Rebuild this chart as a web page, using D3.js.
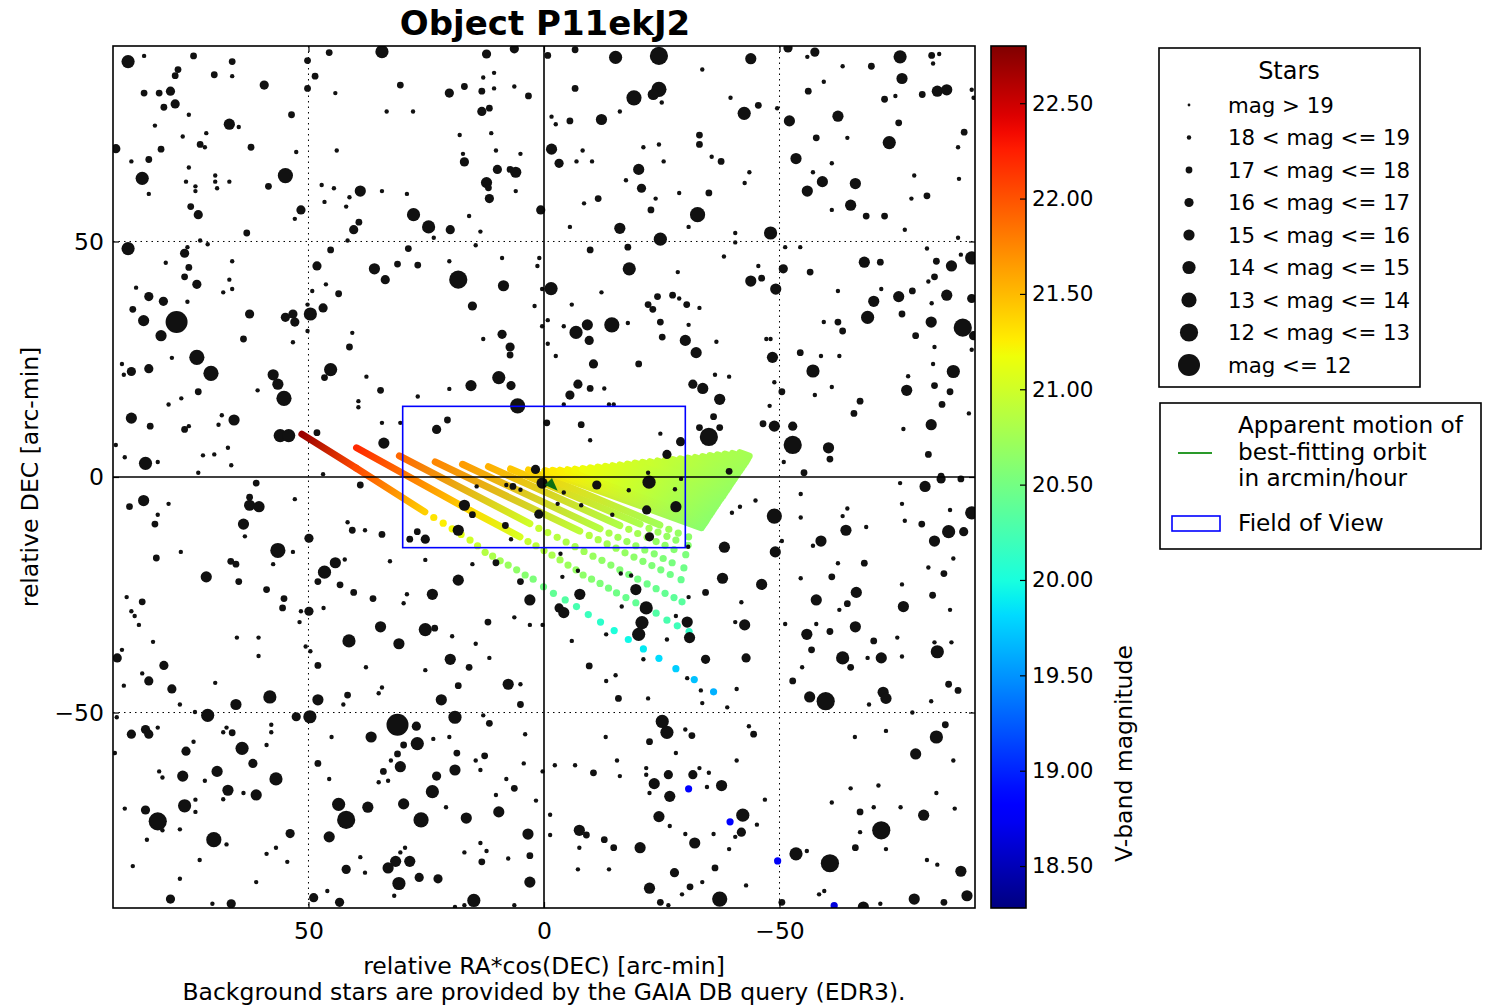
<!DOCTYPE html>
<html>
<head>
<meta charset="utf-8">
<script src="https://cdn.jsdelivr.net/npm/d3@7"></script>
<style>
  body { margin: 0; background: #fff; }
  svg { font-family: "DejaVu Sans", sans-serif; }
</style>
</head>
<body>
<svg id="chart" width="1491" height="1006"></svg>
<script>
// ---- data (arc-min offsets, V magnitudes) ----
const titleText = "Object P11ekJ2";
const axisTicks = [50, 0, -50];
const fovBox = [30, 15];             // half width / half height of field of view
const motionVec = [-2.9, -2.9];       // apparent motion, arcmin/hour
const cbarRange = [18.28, 22.80];
const cbarTicks = [18.5, 19.0, 19.5, 20.0, 20.5, 21.0, 21.5, 22.0, 22.5];
const magBins = [19, 18, 17, 16, 15, 14, 13, 12];
const legendLabels = ["mag > 19", "18 < mag <= 19", "17 < mag <= 18", "16 < mag <= 17",
  "15 < mag <= 16", "14 < mag <= 15", "13 < mag <= 14", "12 < mag <= 13", "mag <= 12"];
const legendMags = [19.5, 18.5, 17.5, 16.5, 15.5, 14.5, 13.5, 12.5, 11.5];

// background stars [x, y, mag], one array per quadrant
const starsNE = [[88.3,88.2,14.5],[84.9,89.4,18.5],[74.4,89.4,17.5],[66.2,88.2,17.5],[66.2,85.1,18.5],[70.0,85.4,17.5],[77.7,86.5,17.5],[78.3,85.2,17.5],[84.9,81.5,17.5],[81.7,81.5,17.5],[79.3,81.9,16.5],[78.3,79.2,16.5],[80.7,78.5,17.5],[75.4,76.9,18.5],[82.6,74.6,18.5],[66.8,74.9,15.5],[64.8,74.3,18.5],[59.4,83.2,16.5],[53.6,76.9,17.5],[50.2,88.4,17.5],[48.6,85.1,17.5],[50.2,82.5,17.5],[45.6,90.1,17.5],[34.4,90.3,14.5],[44.3,81.5,18.5],[30.5,83.2,17.5],[33.4,77.6,18.5],[27.8,77.6,18.5],[20.1,81.5,16.5],[16.9,82.9,17.5],[13.2,81.9,17.5],[12.2,89.8,16.5],[6.3,90.9,16.5],[10.6,85.8,18.5],[12.9,84.8,18.5],[10.6,82.5,18.5],[6.3,82.9,18.5],[3.3,80.9,17.5],[13.2,77.6,16.5],[11.6,78.3,17.5],[17.9,72.6,18.5],[11.2,73.0,18.5],[10.2,69.3,18.5],[17.2,68.6,18.5],[16.9,66.9,16.5],[5.0,68.6,18.5],[9.9,65.3,16.5],[7.2,65.3,17.5],[6.0,64.7,15.5],[12.2,62.5,15.5],[11.6,59.1,16.5],[11.8,61.4,17.5],[6.0,60.7,18.5],[0.7,56.7,16.5],[15.9,55.4,18.5],[13.5,52.1,18.5],[14.5,49.2,18.5],[90.9,69.7,16.5],[87.6,67.0,18.5],[83.9,67.4,17.5],[81.3,69.6,17.5],[76.7,72.3,18.5],[73.0,70.6,17.5],[72.0,70.0,18.5],[71.7,73.0,18.5],[62.2,70.0,17.5],[85.3,63.4,14.5],[83.9,60.1,18.5],[75.4,65.7,18.5],[76.0,62.7,18.5],[74.0,61.7,18.5],[74.0,60.7,18.5],[69.8,64.0,18.5],[69.8,62.7,18.5],[69.4,61.3,18.5],[66.8,62.7,18.5],[58.5,61.7,17.5],[54.9,64.0,13.5],[52.6,69.0,18.5],[51.6,56.7,16.5],[52.9,54.8,18.5],[44.0,69.3,18.5],[47.2,62.0,18.5],[44.6,61.3,18.5],[46.6,58.4,18.5],[41.3,59.4,18.5],[42.0,57.4,18.5],[39.0,60.7,15.5],[34.4,60.7,18.5],[29.1,60.1,18.5],[39.3,54.1,17.5],[40.4,52.5,16.5],[27.7,55.7,14.5],[24.5,53.1,14.5],[19.9,52.5,16.5],[23.4,50.8,18.5],[41.7,50.2,18.5],[73.4,55.7,16.5],[75.0,57.4,17.5],[63.1,51.8,17.5],[73.0,50.2,18.5],[71.4,49.4,18.5],[88.3,48.5,14.5],[76.3,47.5,16.5],[75.7,48.8,18.5],[80.3,45.5,18.5],[75.4,44.5,17.5],[76.3,42.5,17.5],[73.7,40.9,16.5],[86.6,40.2,18.5],[83.9,38.3,16.5],[80.8,37.3,16.5],[87.3,35.6,17.5],[85.0,33.2,15.5],[78.0,32.9,11.5],[81.3,30.0,15.5],[75.7,37.2,18.5],[66.2,45.8,18.5],[66.8,41.9,18.5],[66.2,39.9,18.5],[68.1,39.2,18.5],[62.5,34.6,16.5],[54.9,33.9,16.5],[53.3,34.6,16.5],[52.9,32.9,16.5],[49.6,34.6,14.5],[50.2,36.6,18.5],[49.2,39.5,18.5],[46.9,35.9,16.5],[46.3,40.9,18.5],[43.6,38.9,17.5],[45.3,48.2,17.5],[48.2,44.8,16.5],[50.2,31.0,18.5],[53.3,28.6,18.5],[40.7,30.6,18.5],[41.3,27.6,17.5],[36.0,44.2,15.5],[33.7,41.9,16.5],[31.1,45.2,17.5],[28.8,48.5,17.5],[26.8,45.0,17.5],[20.1,45.8,18.5],[18.2,41.9,12.5],[8.6,40.6,15.5],[8.9,46.5,18.5],[1.0,46.5,18.5],[1.4,44.8,18.5],[0.4,39.9,18.5],[2.0,36.3,18.5],[0.4,32.0,18.5],[15.2,36.3,16.5],[12.9,29.3,18.5],[8.9,30.3,16.5],[7.2,27.6,16.5],[7.2,25.9,17.5],[9.6,21.1,14.5],[7.0,19.4,16.5],[15.5,19.4,15.5],[20.1,18.7,18.5],[26.8,17.1,18.5],[5.6,15.1,13.5],[22.8,10.1,16.5],[20.5,12.1,17.5],[30.5,11.5,18.5],[34.4,11.5,18.5],[34.0,7.2,15.5],[39.4,16.1,18.5],[39.4,14.8,18.5],[37.7,21.3,18.5],[34.7,18.4,17.5],[45.3,22.8,14.5],[46.6,21.1,17.5],[57.5,21.7,15.5],[56.5,19.7,15.5],[55.2,16.7,13.5],[60.8,18.4,18.5],[56.0,8.8,14.5],[54.2,8.8,14.5],[48.2,9.4,17.5],[46.9,0.6,18.5],[73.7,25.4,13.5],[70.7,22.0,13.5],[79.0,25.3,18.5],[83.9,23.0,16.5],[87.6,22.4,16.5],[89.6,24.0,18.5],[89.2,21.7,18.5],[73.4,18.1,17.5],[77.0,16.7,18.5],[79.7,15.4,18.5],[68.4,13.1,18.5],[65.8,12.1,15.5],[69.1,11.1,18.5],[75.4,10.8,18.5],[76.3,10.1,17.5],[83.6,10.8,17.5],[87.6,12.5,15.5],[90.9,6.8,18.5],[89.0,4.2,18.5],[84.6,2.9,14.5],[82.0,3.2,18.5],[72.4,4.6,18.5],[70.0,4.8,18.5],[67.1,6.2,18.5],[66.4,2.5,18.5],[73.4,0.9,18.5],[63.8,29.3,17.5]];

const starsNW = [[-0.8,89.5,17.5],[-6.6,90.7,17.5],[-15.2,89.1,14.5],[-24.4,89.4,12.5],[-43.9,88.8,15.5],[-51.8,91.1,16.5],[-57.5,90.2,16.5],[-75.6,89.2,14.5],[-82.3,89.5,17.5],[-83.9,89.8,18.5],[-82.6,87.8,18.5],[-55.9,89.2,18.5],[-63.4,87.2,18.5],[-69.5,87.2,17.5],[-76.0,84.6,15.5],[-6.6,82.5,17.5],[-24.4,82.3,13.5],[-23.2,81.2,15.5],[-19.1,80.5,13.5],[-25.0,79.5,18.5],[-33.6,86.5,18.5],[-39.6,80.5,18.5],[-42.5,77.2,14.5],[-45.5,78.9,17.5],[-49.5,78.3,18.5],[-59.4,83.9,18.5],[-56.1,81.9,17.5],[-52.1,75.6,15.5],[-62.4,76.6,15.5],[-72.3,80.2,17.5],[-74.6,80.9,18.5],[-80.3,81.2,17.5],[-83.5,81.9,15.5],[-85.5,82.2,15.5],[-90.8,82.2,18.5],[-91.2,80.5,18.5],[-75.3,75.2,17.5],[-89.2,73.2,17.5],[-87.9,70.0,18.5],[-88.1,63.3,18.5],[-73.3,71.0,14.5],[-64.4,72.0,18.5],[-57.8,72.0,17.5],[-53.5,67.6,15.5],[-61.1,66.6,18.5],[-57.1,64.7,18.5],[-59.1,62.7,15.5],[-55.9,60.7,15.5],[-66.1,62.3,15.5],[-65.1,57.7,15.5],[-61.1,56.7,18.5],[-68.4,55.4,17.5],[-72.3,55.4,17.5],[-78.6,64.0,18.5],[-81.3,59.7,17.5],[-78.0,59.1,18.5],[-76.6,52.5,18.5],[-87.9,50.8,18.5],[-90.8,46.5,14.5],[-88.5,47.2,18.5],[-86.5,44.8,15.5],[-83.3,45.8,17.5],[-81.3,48.5,18.5],[-82.9,42.5,17.5],[-81.6,41.5,18.5],[-78.2,39.5,17.5],[-85.5,38.6,15.5],[-90.8,37.9,16.5],[-82.3,36.9,18.5],[-75.3,38.3,15.5],[-71.6,39.9,18.5],[-70.0,37.3,15.5],[-68.7,33.9,14.5],[-76.0,34.6,17.5],[-82.2,32.9,15.5],[-88.9,31.7,12.5],[-91.2,30.0,16.5],[-78.9,30.0,17.5],[-82.9,27.6,18.5],[-90.8,27.0,18.5],[-82.6,24.0,18.5],[-86.9,22.4,14.5],[-77.3,21.4,18.5],[-82.9,19.4,17.5],[-77.0,18.4,15.5],[-86.2,18.1,17.5],[-84.5,15.4,17.5],[-90.2,13.5,18.5],[-82.2,11.1,15.5],[-76.3,10.2,18.5],[-81.6,4.8,17.5],[-84.3,0.2,17.5],[-67.1,16.1,17.5],[-65.8,13.5,17.5],[-61.1,19.1,18.5],[-57.1,22.5,14.5],[-57.5,17.4,18.5],[-59.4,32.9,18.5],[-62.4,32.9,17.5],[-63.4,31.0,17.5],[-62.7,25.7,18.5],[-58.8,25.7,18.5],[-54.4,26.4,17.5],[-48.5,25.4,15.5],[-47.2,29.3,18.5],[-48.1,29.3,18.5],[-48.9,20.1,18.5],[-50.5,18.1,17.5],[-47.9,15.1,18.5],[-48.9,10.8,15.5],[-46.5,11.3,17.5],[-52.8,10.8,16.5],[-52.8,6.8,12.5],[-60.4,6.2,15.5],[-60.7,3.8,17.5],[-50.9,3.2,18.5],[-55.2,0.9,17.5],[-35.0,8.5,12.5],[-33.0,10.5,17.5],[-37.3,10.5,17.5],[-36.0,12.8,17.5],[-37.3,16.5,15.5],[-33.7,18.8,15.5],[-31.6,19.7,16.5],[-36.3,21.7,18.5],[-39.3,21.3,18.5],[-32.3,26.4,15.5],[-30.0,29.0,15.5],[-36.6,28.7,18.5],[-30.7,32.3,18.5],[-33.0,35.9,18.5],[-30.3,36.6,17.5],[-28.7,37.9,18.5],[-27.3,38.6,17.5],[-24.1,38.3,17.5],[-22.1,36.6,17.5],[-23.1,35.6,17.5],[-24.7,32.9,17.5],[-25.1,29.7,17.5],[-20.1,24.0,17.5],[-17.8,32.7,18.5],[-14.4,32.3,13.5],[-9.2,32.3,15.5],[-6.8,30.7,14.5],[-9.6,29.0,16.5],[-12.2,39.2,18.5],[-5.9,36.6,18.5],[-1.5,40.0,14.5],[-0.8,33.3,18.5],[-0.8,28.3,18.5],[-2.5,25.7,18.5],[-4.2,32.0,18.5],[-10.5,24.0,16.5],[-7.2,19.7,16.5],[-9.8,18.8,17.5],[-12.8,18.8,18.5],[-5.5,17.4,16.5],[-4.2,15.4,18.5],[-13.8,15.4,18.5],[-14.8,15.4,18.5],[-0.6,11.5,17.5],[-7.9,11.1,17.5],[-9.8,7.8,18.5],[-24.7,9.2,18.5],[-29.0,7.5,16.5],[-26.1,4.8,16.5],[-39.3,1.2,17.5],[-22.1,0.9,18.5],[-1.6,76.5,18.5],[-2.5,74.9,18.5],[-5.5,75.6,17.5],[-12.2,75.9,15.5],[-16.1,77.6,18.5],[-1.6,69.6,15.5],[-3.2,66.6,16.5],[-8.2,69.3,18.5],[-6.9,67.0,18.5],[-10.2,67.0,18.5],[-20.1,65.3,15.5],[-20.7,61.3,16.5],[-21.1,70.0,18.5],[-24.4,70.6,18.5],[-25.4,67.0,18.5],[-33.0,72.6,17.5],[-33.0,70.6,17.5],[-35.6,68.0,18.5],[-37.6,67.0,17.5],[-43.6,64.7,18.5],[-42.6,62.4,18.5],[-35.0,60.3,17.5],[-28.7,60.3,18.5],[-23.7,59.1,18.5],[-22.7,56.7,17.5],[-17.4,63.0,18.5],[-11.5,59.1,17.5],[-8.5,58.1,18.5],[-32.6,55.7,13.5],[-30.7,53.1,18.5],[-16.1,52.8,15.5],[-5.5,53.1,18.5],[-24.7,50.5,14.5],[-17.8,48.8,17.5],[-9.8,48.2,17.5],[-18.1,44.2,14.5],[-28.4,43.5,18.5],[-40.6,51.8,18.5],[-40.6,49.8,18.5],[-38.2,46.8,18.5],[-45.5,44.8,18.5],[-46.2,42.2,17.5],[-43.9,41.6,15.5],[-48.1,51.8,14.5],[-49.2,39.9,15.5],[-50.8,44.2,16.5],[-51.2,48.8,18.5],[-54.4,48.8,18.5],[-56.5,43.5,17.5],[-62.4,39.5,18.5],[-68.0,45.6,15.5],[-71.4,45.6,17.5]];

const starsSE = [[61.1,-1.3,17.5],[39.0,-1.7,17.5],[85.0,-5.0,15.5],[88.0,-6.3,17.5],[79.7,-5.7,18.5],[62.5,-4.3,17.5],[62.5,-6.0,15.5],[60.5,-6.3,15.5],[52.9,-4.7,18.5],[82.0,-8.0,18.5],[82.6,-10.0,17.5],[63.8,-10.0,15.5],[63.5,-12.6,18.5],[56.5,-15.6,13.5],[53.3,-15.9,18.5],[49.9,-13.0,16.5],[77.1,-15.9,18.5],[82.3,-17.2,17.5],[66.5,-17.9,17.5],[65.4,-18.5,17.5],[57.5,-18.5,18.5],[71.7,-21.2,15.5],[64.8,-22.2,17.5],[58.9,-23.9,17.5],[55.2,-25.8,17.5],[55.5,-27.8,17.5],[51.6,-28.5,18.5],[49.9,-28.5,16.5],[51.9,-30.8,18.5],[46.8,-27.8,18.5],[46.6,-20.2,14.5],[44.3,-18.2,15.5],[42.3,-17.5,18.5],[48.0,-22.2,17.5],[43.3,-22.9,17.5],[40.4,-24.5,17.5],[36.3,-25.8,17.5],[41.7,-9.6,18.5],[40.7,-11.3,17.5],[38.0,-11.3,18.5],[34.4,-12.2,17.5],[32.7,-17.9,18.5],[29.1,-24.9,18.5],[29.8,-26.8,18.5],[34.7,-31.8,15.5],[41.4,-34.8,14.5],[30.8,-35.4,15.5],[25.2,-32.4,14.5],[23.2,-32.1,17.5],[23.7,-24.9,15.5],[25.2,-17.6,18.5],[18.2,-21.9,15.5],[15.2,-18.5,18.5],[10.2,-18.2,17.5],[5.0,-22.2,17.5],[3.0,-26.1,15.5],[11.9,-30.8,17.5],[6.3,-29.8,18.5],[3.0,-31.4,18.5],[0.3,-31.4,18.5],[19.5,-33.8,18.5],[14.5,-35.4,18.5],[11.6,-38.4,18.5],[19.9,-38.7,15.5],[15.9,-40.4,17.5],[25.2,-41.0,18.5],[18.2,-44.3,17.5],[7.6,-44.0,15.5],[5.0,-44.0,18.5],[5.0,-48.3,17.5],[21.8,-47.3,15.5],[18.9,-51.0,14.5],[12.9,-50.6,18.5],[11.6,-52.3,17.5],[4.0,-54.6,18.5],[12.6,-59.2,17.5],[14.5,-60.2,18.5],[13.5,-62.2,18.5],[18.9,-62.2,15.5],[18.5,-58.6,17.5],[20.1,-55.2,18.5],[4.3,-60.8,18.5],[0.3,-62.5,18.5],[8.0,-64.1,18.5],[6.3,-66.1,17.5],[10.2,-67.5,18.5],[9.6,-71.1,15.5],[1.7,-68.7,18.5],[3.4,-75.8,15.5],[3.0,-80.4,17.5],[3.0,-86.0,15.5],[7.6,-81.0,18.5],[13.5,-77.7,18.5],[12.2,-79.4,18.5],[16.9,-79.7,18.5],[13.2,-81.7,17.5],[16.5,-72.4,15.5],[20.8,-70.1,18.5],[23.7,-66.8,14.5],[22.8,-63.5,16.5],[26.1,-72.8,13.5],[29.8,-69.4,15.5],[30.5,-61.5,15.5],[31.1,-58.8,17.5],[29.8,-56.9,17.5],[26.9,-56.6,14.5],[27.1,-52.9,16.5],[23.5,-55.6,18.5],[31.1,-52.6,11.5],[36.7,-55.2,15.5],[32.5,-60.2,18.5],[34.1,-62.5,17.5],[35.1,-64.8,18.5],[33.1,-64.5,18.5],[37.4,-70.1,15.5],[43.6,-69.5,14.5],[42.0,-72.8,12.5],[45.6,-76.4,15.5],[45.6,-64.1,18.5],[48.0,-60.8,17.5],[48.0,-47.3,15.5],[48.0,-40.0,17.5],[49.7,-50.9,14.5],[52.6,-50.9,16.5],[41.7,-46.3,17.5],[42.6,-48.3,18.5],[35.1,-45.9,18.5],[34.4,-44.7,18.5],[37.8,-40.4,18.5],[45.1,-55.2,18.5],[50.6,-36.0,18.5],[49.6,-37.0,18.5],[60.6,-34.1,18.5],[60.6,-38.0,18.5],[65.2,-34.1,18.5],[69.8,-43.7,18.5],[58.2,-46.7,14.5],[65.4,-48.3,15.5],[71.4,-50.6,14.5],[74.1,-49.9,18.5],[77.3,-48.3,18.5],[79.0,-45.0,16.5],[80.7,-40.0,16.5],[83.9,-43.3,16.5],[85.3,-41.7,18.5],[89.2,-44.3,18.5],[90.6,-38.4,16.5],[89.6,-36.7,18.5],[83.0,-35.0,18.5],[88.6,-25.5,18.5],[85.3,-26.5,17.5],[87.6,-28.5,18.5],[86.9,-29.5,18.5],[86.0,-31.4,18.5],[90.7,-51.0,18.5],[87.6,-54.6,16.5],[84.6,-53.6,16.5],[83.9,-54.6,16.5],[82.0,-53.2,18.5],[91.1,-58.6,18.5],[81.7,-62.5,18.5],[81.0,-63.8,18.5],[76.7,-63.5,15.5],[76.0,-58.2,16.5],[74.4,-56.2,18.5],[72.0,-64.5,18.5],[69.4,-62.5,15.5],[67.4,-53.2,18.5],[68.1,-54.2,18.5],[66.2,-54.3,17.5],[64.1,-57.6,14.5],[61.8,-60.8,16.5],[58.9,-56.9,18.5],[57.9,-52.6,18.5],[57.9,-54.2,18.5],[56.9,-64.1,14.5],[67.1,-66.5,15.5],[63.8,-67.1,18.5],[61.1,-67.5,15.5],[68.1,-68.4,18.5],[74.0,-68.5,18.5],[74.0,-71.1,18.5],[76.3,-69.8,14.5],[82.0,-73.1,12.5],[81.0,-75.0,18.5],[84.6,-70.7,16.5],[89.0,-70.4,18.5],[77.3,-74.8,18.5],[84.3,-77.0,18.5],[87.3,-82.6,18.5],[77.3,-85.3,18.5],[79.3,-89.6,16.5],[73.1,-81.3,18.5],[70.1,-77.0,13.5],[67.4,-78.0,18.5],[70.4,-90.6,18.5],[66.4,-90.6,16.5],[61.1,-86.0,18.5],[58.9,-80.0,18.5],[56.9,-78.7,18.5],[54.5,-81.7,18.5],[53.9,-75.7,16.5],[48.9,-89.3,16.5],[46.0,-87.9,18.5],[43.4,-90.3,16.5],[42.0,-83.3,16.5],[39.0,-80.7,18.5],[38.0,-84.0,18.5],[33.1,-83.0,15.5],[31.5,-81.6,15.5],[28.5,-81.6,15.5],[30.5,-79.7,18.5],[29.5,-78.7,18.5],[30.8,-86.3,14.5],[31.8,-88.9,18.5],[26.5,-85.0,16.5],[22.5,-85.3,16.5],[14.9,-89.9,14.5],[16.9,-90.9,18.5],[18.9,-91.3,18.5],[6.3,-90.9,18.5]];

const starsSW = [[-3.5,-16.3,18.5],[-7.2,-19.9,18.5],[-3.9,-21.2,18.5],[-7.6,-24.9,15.5],[-3.2,-27.8,16.5],[-4.2,-28.8,15.5],[-16.3,-20.5,18.5],[-18.5,-20.9,18.5],[-19.5,-23.9,15.5],[-16.5,-27.5,18.5],[-21.7,-27.8,14.5],[-20.8,-30.9,14.5],[-20.1,-33.4,14.5],[-13.2,-33.4,18.5],[-5.9,-34.8,18.5],[-9.6,-40.1,17.5],[-13.2,-43.3,18.5],[-15.2,-42.1,18.5],[-15.8,-47.0,17.5],[-22.1,-47.0,18.5],[-21.1,-38.7,18.5],[-28.0,-29.5,18.5],[-30.4,-30.8,15.5],[-30.9,-34.1,15.5],[-26.1,-34.5,18.5],[-30.7,-25.5,18.5],[-34.3,-24.5,17.5],[-38.3,-14.9,15.5],[-37.9,-21.5,15.5],[-39.9,-7.6,18.5],[-41.6,-6.3,18.5],[-44.9,-5.0,18.5],[-48.9,-8.3,13.5],[-50.5,-13.6,18.5],[-49.1,-15.9,15.5],[-46.2,-22.8,15.5],[-34.3,-38.7,16.5],[-30.4,-42.7,18.5],[-33.3,-45.3,18.5],[-33.6,-48.0,18.5],[-38.9,-48.9,18.5],[-40.9,-45.0,18.5],[-40.6,-30.8,18.5],[-42.6,-31.4,15.5],[-41.9,-26.6,18.5],[-42.9,-38.4,16.5],[-51.2,-31.2,18.5],[-54.5,-3.6,18.5],[-54.5,-8.6,18.5],[-58.8,-13.6,15.5],[-57.1,-14.6,18.5],[-54.5,-21.5,18.5],[-57.8,-26.1,15.5],[-57.8,-31.2,18.5],[-55.8,-33.4,15.5],[-56.8,-36.7,17.5],[-54.8,-40.4,18.5],[-52.8,-43.3,17.5],[-56.4,-46.7,15.5],[-59.8,-47.6,12.5],[-60.7,-32.8,17.5],[-62.7,-28.2,18.5],[-64.4,-26.9,17.5],[-66.3,-24.5,15.5],[-61.1,-21.2,17.5],[-62.4,-18.3,18.5],[-64.1,-11.3,15.5],[-63.4,-8.3,18.5],[-64.4,-6.7,18.5],[-68.4,-10.6,18.5],[-68.0,-18.3,17.5],[-66.1,-31.8,15.5],[-70.0,-34.8,17.5],[-63.4,-38.4,14.5],[-65.1,-40.4,17.5],[-68.7,-38.4,18.5],[-71.6,-38.4,15.5],[-76.0,-38.1,18.5],[-75.0,-34.1,18.5],[-72.0,-45.7,15.5],[-72.6,-47.0,15.5],[-69.0,-48.3,18.5],[-76.0,-22.8,18.5],[-76.3,-27.5,15.5],[-82.5,-25.1,17.5],[-86.2,-28.2,18.5],[-82.9,-13.6,15.5],[-85.9,-11.6,14.5],[-89.1,-11.6,16.5],[-80.2,-10.0,17.5],[-76.6,-9.3,18.5],[-76.0,-5.7,18.5],[-80.9,-2.0,15.5],[-75.6,-1.3,18.5],[-84.3,-0.4,16.5],[-88.5,-0.4,17.5],[-90.8,-7.6,14.5],[-86.2,-7.0,18.5],[-86.9,-17.3,18.5],[-81.6,-19.2,18.5],[-84.9,-20.5,17.5],[-83.5,-37.1,14.5],[-82.9,-35.1,18.5],[-86.5,-35.1,18.5],[-85.9,-44.0,17.5],[-87.9,-45.3,17.5],[-82.2,-47.6,18.5],[-78.2,-50.0,18.5],[-85.2,-52.6,17.5],[-83.3,-55.2,14.5],[-78.9,-58.8,15.5],[-86.9,-60.2,18.5],[-83.3,-67.1,18.5],[-87.2,-70.4,18.5],[-80.6,-71.8,15.5],[-75.7,-70.1,18.5],[-70.0,-70.1,18.5],[-71.0,-65.5,18.5],[-65.1,-66.1,18.5],[-61.1,-69.1,18.5],[-67.1,-71.1,17.5],[-71.6,-75.0,12.5],[-67.1,-75.4,18.5],[-66.1,-78.7,17.5],[-72.6,-79.0,18.5],[-66.0,-55.2,18.5],[-72.6,-53.9,18.5],[-81.3,-81.3,18.5],[-83.5,-82.3,18.5],[-88.5,-83.7,15.5],[-89.8,-88.9,15.5],[-84.9,-90.3,17.5],[-78.6,-89.6,15.5],[-71.4,-90.6,18.5],[-67.8,-91.3,15.5],[-60.7,-82.0,12.5],[-53.5,-80.0,14.5],[-55.8,-79.4,18.5],[-59.5,-87.9,18.5],[-58.4,-88.6,18.5],[-50.5,-90.3,17.5],[-42.9,-86.7,18.5],[-37.3,-89.6,13.5],[-33.6,-86.0,18.5],[-36.3,-83.0,17.5],[-31.0,-87.0,17.5],[-29.3,-88.6,18.5],[-27.7,-84.0,16.5],[-22.4,-87.3,15.5],[-24.7,-90.3,17.5],[-26.4,-90.9,18.5],[-20.4,-78.7,15.5],[-14.8,-78.7,17.5],[-12.8,-77.0,17.5],[-7.5,-75.0,15.5],[-9.0,-76.0,17.5],[-7.5,-78.7,18.5],[-7.2,-83.3,18.5],[-13.8,-83.3,18.5],[-1.3,-76.0,18.5],[-1.3,-71.7,18.5],[-2.3,-61.2,18.5],[-6.6,-61.2,18.5],[-10.5,-62.8,17.5],[-15.5,-60.2,18.5],[-16.1,-63.5,18.5],[-13.1,-55.2,18.5],[-22.4,-56.2,17.5],[-25.1,-51.9,14.5],[-26.1,-54.2,14.5],[-30.0,-53.6,18.5],[-31.4,-54.9,17.5],[-28.0,-58.6,18.5],[-21.7,-61.8,18.5],[-21.7,-63.2,18.5],[-26.4,-63.2,16.5],[-23.4,-65.1,15.5],[-26.7,-67.8,15.5],[-22.4,-67.1,18.5],[-31.6,-63.2,16.5],[-33.0,-61.8,18.5],[-35.0,-62.8,18.5],[-34.6,-65.8,18.5],[-37.7,-65.5,15.5],[-40.9,-60.2,18.5],[-43.5,-52.9,18.5],[-44.5,-54.6,17.5],[-46.9,-68.5,18.5],[-42.2,-71.8,14.5],[-45.2,-73.8,18.5],[-41.9,-75.4,16.5],[-40.6,-76.4,18.5],[-39.3,-79.0,18.5],[-36.0,-75.8,18.5],[-32.0,-77.7,15.5],[-30.0,-75.8,18.5],[-24.4,-72.1,15.5],[-26.7,-74.1,18.5]];

const starsFov = [[0.4,-1.3,15.5],[1.8,1.6,16.5],[-22.3,-1.1,14.5],[-11.2,-1.7,16.5],[-18.0,-2.8,18.5],[-27.8,-2.6,18.5],[-29.1,-0.4,18.5],[-21.8,-7.0,16.5],[-28.0,-6.3,15.5],[-14.5,-8.0,18.5],[-22.4,-12.7,16.5],[-7.9,-6.0,18.5],[-2.9,-5.7,18.5],[-4.2,-3.3,18.5],[1.1,-7.9,16.5],[-30.6,-14.8,18.5],[16.9,-6.0,15.5],[15.2,-8.0,17.5],[18.2,-11.3,15.5],[25.2,-13.2,16.5],[26.9,-11.6,17.5],[28.5,-13.2,17.5],[8.2,-10.3,17.5],[7.0,-13.2,18.5],[8.0,-1.7,18.5],[6.6,-2.0,17.5],[5.0,-2.7,18.5],[14.3,-2.0,18.5]];

// predicted object positions: dense parts of each track [x, y, mag]
const trackLines = [
  [[51.4,9.1,22.7],[39.9,1.9,22.05],[25.3,-7.4,21.4]],
  [[39.8,6.2,22.2],[15.7,-7.1,21.35],[5.1,-12.7,21.05]],
  [[30.7,4.5,21.9],[3.0,-9.9,21.0]],
  [[23.1,3.2,21.75],[-7.6,-11.5,20.9]],
  [[17.3,2.7,21.65],[-11.9,-11.0,20.85]],
  [[11.8,2.2,21.55],[-16.1,-10.3,20.82]],
  [[7.1,1.7,21.45],[-20.4,-10.0,20.8]],
  [[3.3,1.5,21.4],[-24.6,-10.2,20.75]]
];
// predicted object positions: overlapping tracks forming the green fan [x, y, mag]
const fanLines = [
  [[-0.2,1.3,21.3],[-33.4,-10.7,20.62]],
  [[-1.8,1.35,21.27],[-33.75,-10.2,20.625]],
  [[-3.4,1.4,21.25],[-34.1,-9.7,20.63]],
  [[-5.0,1.5,21.22],[-34.45,-9.15,20.635]],
  [[-6.6,1.6,21.2],[-34.8,-8.6,20.64]],
  [[-8.2,1.75,21.17],[-35.2,-8.0,20.645]],
  [[-9.8,1.9,21.15],[-35.6,-7.4,20.65]],
  [[-11.4,2.05,21.12],[-36.0,-6.8,20.655]],
  [[-13.0,2.2,21.1],[-36.4,-6.2,20.66]],
  [[-14.55,2.35,21.07],[-36.8,-5.6,20.665]],
  [[-16.1,2.5,21.05],[-37.2,-5.0,20.67]],
  [[-17.7,2.7,21.02],[-37.6,-4.45,20.675]],
  [[-19.3,2.9,21.0],[-38.0,-3.9,20.68]],
  [[-20.9,3.05,20.98],[-38.4,-3.3,20.685]],
  [[-22.5,3.2,20.97],[-38.8,-2.7,20.69]],
  [[-24.1,3.35,20.95],[-39.2,-2.1,20.695]],
  [[-25.7,3.5,20.93],[-39.6,-1.5,20.7]],
  [[-27.3,3.65,20.91],[-40.0,-0.9,20.705]],
  [[-28.9,3.8,20.9],[-40.4,-0.3,20.71]],
  [[-30.5,3.95,20.88],[-40.8,0.3,20.715]],
  [[-32.1,4.1,20.86],[-41.2,0.9,20.72]],
  [[-33.65,4.3,20.84],[-41.6,1.45,20.73]],
  [[-35.2,4.5,20.83],[-42.0,2.0,20.74]],
  [[-36.8,4.65,20.81],[-42.4,2.6,20.745]],
  [[-38.4,4.8,20.8],[-42.8,3.2,20.75]],
  [[-40.0,4.95,20.79],[-43.15,3.8,20.755]],
  [[-41.6,5.1,20.78],[-43.5,4.4,20.76]]
];

// predicted object positions: separated dots [x, y, mag]
const trackDots1 = [[23.4,-8.6,21.3],[21.4,-9.8,21.25],[19.5,-11.0,21.2],[17.6,-12.2,21.1],[15.7,-13.4,21.0],[14.1,-14.6,20.95],[12.5,-16.0,20.85],[10.9,-16.8,20.8],[9.3,-17.8,20.75],[7.6,-18.7,20.7],[5.8,-19.7,20.65],[4.0,-20.8,20.6],[2.3,-21.7,20.55],[0.1,-23.3,20.48],[-2.0,-24.7,20.4],[-4.5,-26.1,20.32],[-6.9,-27.5,20.25],[-9.4,-29.2,20.18],[-12.0,-30.8,20.1],[-14.9,-32.6,20.02],[-17.9,-34.5,19.95],[-21.1,-36.5,19.88],[-24.4,-38.5,19.82],[-28.0,-40.7,19.76],[-31.9,-43.0,19.7],[-36.0,-45.6,19.63]];
const trackDots2 = [[3.4,-13.7,20.95],[1.7,-14.6,20.9],[0.0,-15.6,20.85],[-1.7,-16.6,20.8],[-3.4,-17.6,20.76],[-5.1,-18.7,20.72],[-6.8,-19.7,20.68],[-8.3,-20.8,20.64],[-10.1,-21.7,20.6],[-11.9,-22.6,20.56],[-13.7,-23.6,20.52],[-15.4,-24.6,20.48],[-17.4,-25.6,20.44],[-19.5,-26.7,20.4],[-21.7,-27.7,20.36],[-23.8,-28.9,20.31],[-26.1,-30.4,20.26],[-28.3,-31.6,20.2],[-30.8,-32.8,20.12]];
const trackDots3 = [[1.1,-10.9,20.95],[-0.8,-11.8,20.9],[-2.8,-12.8,20.86],[-4.7,-13.8,20.82],[-6.6,-14.8,20.78],[-8.5,-15.8,20.74],[-10.4,-16.8,20.7],[-12.3,-17.7,20.66],[-14.2,-18.7,20.62],[-16.1,-19.7,20.58],[-18.0,-20.7,20.54],[-19.9,-21.7,20.5],[-21.9,-22.7,20.47],[-23.8,-23.7,20.44],[-25.7,-24.7,20.41],[-27.6,-25.6,20.38],[-29.3,-26.5,20.35]];
const trackDots4 = [[-9.6,-12.4,20.85],[-11.5,-13.3,20.8],[-13.4,-14.2,20.76],[-15.3,-15.1,20.72],[-17.2,-16.1,20.68],[-19.1,-17.0,20.64],[-21.0,-17.9,20.6],[-22.9,-18.8,20.56],[-24.8,-19.7,20.52],[-26.8,-20.7,20.48],[-29.1,-21.8,20.43]];
const trackDots5 = [[-13.8,-11.9,20.8],[-15.7,-12.8,20.76],[-17.6,-13.7,20.72],[-19.5,-14.6,20.68],[-21.4,-15.5,20.64],[-23.4,-16.3,20.6],[-25.3,-17.3,20.56],[-27.2,-18.2,20.52],[-29.7,-19.3,20.47]];
const trackDots6 = [[-18.0,-11.1,20.8],[-19.9,-12.0,20.76],[-21.9,-12.8,20.72],[-23.8,-13.7,20.68],[-25.7,-14.5,20.64],[-27.6,-15.4,20.6],[-30.1,-16.5,20.55]];
const trackDots7 = [[-22.3,-10.9,20.76],[-24.2,-11.7,20.72],[-26.1,-12.6,20.68],[-28.0,-13.4,20.64],[-30.6,-14.5,20.6]];
const trackDots8 = [[-26.5,-11.1,20.72],[-28.5,-11.9,20.68],[-30.7,-12.7,20.64]];
const brightDots = [[-30.7,-66.2,18.85],[-39.5,-73.2,18.8],[-49.6,-81.5,18.75],[-61.6,-91.0,18.65]];

// ---- drawing ----
const svg = d3.select("#chart");
const defs = svg.append("defs");
const P = { left: 113, top: 46, right: 975, bottom: 908 };
const x = d3.scaleLinear().domain([91.5, -91.5]).range([P.left, P.right]);
const y = d3.scaleLinear().domain([91.5, -91.5]).range([P.top, P.bottom]);

// jet colormap
const jetR = d3.scaleLinear().domain([0, 0.35, 0.66, 0.89, 1]).range([0, 0, 1, 1, 0.5]).clamp(true);
const jetG = d3.scaleLinear().domain([0, 0.125, 0.375, 0.64, 0.91, 1]).range([0, 0, 1, 1, 0, 0]).clamp(true);
const jetB = d3.scaleLinear().domain([0, 0.11, 0.34, 0.65, 1]).range([0.5, 1, 1, 0, 0]).clamp(true);
const jetT = t => d3.rgb(jetR(t) * 255, jetG(t) * 255, jetB(t) * 255).formatHex();
const magT = d3.scaleLinear().domain(cbarRange).range([0, 1]).clamp(true);
const jet = m => jetT(magT(m));

// star size by magnitude bin
const radii = [1.4, 2.2, 3.4, 4.6, 5.6, 6.6, 7.6, 9.1, 11];
const binOf = m => { let i = 0; while (i < magBins.length && m <= magBins[i]) i++; return i; };
const starR = m => radii[binOf(m)];

defs.append("clipPath").attr("id", "plotclip").append("rect")
  .attr("x", P.left).attr("y", P.top).attr("width", P.right - P.left).attr("height", P.bottom - P.top);

const fmt = d => d < 0 ? "\u2212" + Math.abs(d) : String(d);

// dotted grid
const grid = svg.append("g").attr("stroke", "#000").attr("stroke-width", 1).attr("stroke-dasharray", "1.5,4");
axisTicks.filter(d => d !== 0).forEach(d => {
  grid.append("line").attr("x1", x(d)).attr("x2", x(d)).attr("y1", P.top).attr("y2", P.bottom);
  grid.append("line").attr("y1", y(d)).attr("y2", y(d)).attr("x1", P.left).attr("x2", P.right);
});

const plot = svg.append("g").attr("clip-path", "url(#plotclip)");

// tracks: thick segments with colour gradients
let gid = 0;
function drawTracks(list, width) {
  const g = plot.append("g").attr("fill", "none").attr("stroke-width", width).attr("stroke-linecap", "round");
  list.forEach(track => {
    d3.pairs(track).forEach(([a, b]) => {
      const id = "tg" + (gid++);
      const lg = defs.append("linearGradient").attr("id", id).attr("gradientUnits", "userSpaceOnUse")
        .attr("x1", x(a[0])).attr("y1", y(a[1])).attr("x2", x(b[0])).attr("y2", y(b[1]));
      lg.append("stop").attr("offset", 0).attr("stop-color", jet(a[2]));
      lg.append("stop").attr("offset", 1).attr("stop-color", jet(b[2]));
      g.append("line").attr("x1", x(a[0])).attr("y1", y(a[1])).attr("x2", x(b[0])).attr("y2", y(b[1]))
        .attr("stroke", `url(#${id})`);
    });
  });
}
drawTracks(trackLines, 7);
drawTracks(fanLines, 7.5);

const allDots = [trackDots1, trackDots2, trackDots3, trackDots4, trackDots5, trackDots6, trackDots7, trackDots8, brightDots].flat();
plot.append("g").selectAll("circle").data(allDots).join("circle")
  .attr("cx", d => x(d[0])).attr("cy", d => y(d[1])).attr("r", 3.6).attr("fill", d => jet(d[2]));

// zero lines
svg.append("line").attr("x1", x(0)).attr("x2", x(0)).attr("y1", P.top).attr("y2", P.bottom).attr("stroke", "#000").attr("stroke-width", 1.6);
svg.append("line").attr("y1", y(0)).attr("y2", y(0)).attr("x1", P.left).attr("x2", P.right).attr("stroke", "#000").attr("stroke-width", 1.6);

// stars
const stars = [starsNE, starsNW, starsSE, starsSW, starsFov].flat();
plot.append("g").selectAll("circle").data(stars).join("circle")
  .attr("cx", d => x(d[0])).attr("cy", d => y(d[1])).attr("r", d => starR(d[2])).attr("fill", "#111");

// field of view
svg.append("rect").attr("x", x(fovBox[0])).attr("y", y(fovBox[1]))
  .attr("width", x(-fovBox[0]) - x(fovBox[0])).attr("height", y(-fovBox[1]) - y(fovBox[1]))
  .attr("fill", "none").attr("stroke", "#0000ff").attr("stroke-width", 1.6);

// apparent motion arrow
{
  const x0 = x(0), y0 = y(0), x1 = x(motionVec[0]), y1 = y(motionVec[1]);
  const len = Math.hypot(x1 - x0, y1 - y0), ux = (x1 - x0) / len, uy = (y1 - y0) / len;
  const bx = x1 - ux * 13, by = y1 - uy * 13;
  svg.append("path").attr("fill", "#0c6e12")
    .attr("d", `M${x1},${y1}L${bx - uy * 5},${by + ux * 5}L${bx + uy * 5},${by - ux * 5}Z`);
}

// spines
svg.append("rect").attr("x", P.left).attr("y", P.top).attr("width", P.right - P.left).attr("height", P.bottom - P.top)
  .attr("fill", "none").attr("stroke", "#000").attr("stroke-width", 1.6);

// axes (inward ticks)
function styleAxis(g) {
  g.select(".domain").remove();
  g.selectAll(".tick line").attr("stroke", "#000").attr("stroke-width", 1.2);
  g.selectAll("text").attr("font-family", "DejaVu Sans").attr("font-size", 23.5).attr("fill", "#000");
}
svg.append("g").attr("transform", `translate(0,${P.bottom})`)
  .call(d3.axisBottom(x).tickValues(axisTicks).tickSizeInner(-6).tickSizeOuter(0).tickPadding(14).tickFormat(fmt)).call(styleAxis);
svg.append("g").attr("transform", `translate(0,${P.top})`)
  .call(d3.axisTop(x).tickValues(axisTicks).tickSizeInner(-6).tickSizeOuter(0).tickFormat("")).call(styleAxis);
svg.append("g").attr("transform", `translate(${P.left},0)`)
  .call(d3.axisLeft(y).tickValues(axisTicks).tickSizeInner(-6).tickSizeOuter(0).tickPadding(9).tickFormat(fmt)).call(styleAxis);
svg.append("g").attr("transform", `translate(${P.right},0)`)
  .call(d3.axisRight(y).tickValues(axisTicks).tickSizeInner(-6).tickSizeOuter(0).tickFormat("")).call(styleAxis);

// titles
svg.append("text").attr("x", 545).attr("y", 35).attr("text-anchor", "middle")
  .attr("font-size", 34).attr("font-weight", "bold").text(titleText);
svg.append("text").attr("x", 544).attr("y", 974).attr("text-anchor", "middle").attr("font-size", 23.5)
  .text("relative RA*cos(DEC) [arc-min]");
svg.append("text").attr("x", 544).attr("y", 1000).attr("text-anchor", "middle").attr("font-size", 23.5)
  .text("Background stars are provided by the GAIA DB query (EDR3).");
svg.append("text").attr("transform", "translate(38,477) rotate(-90)").attr("text-anchor", "middle").attr("font-size", 23.5)
  .text("relative DEC [arc-min]");

// colorbar
const CB = { x: 991, w: 35 };
const cy = d3.scaleLinear().domain(cbarRange).range([P.bottom, P.top]);
const cg = defs.append("linearGradient").attr("id", "cbar").attr("x1", 0).attr("y1", 1).attr("x2", 0).attr("y2", 0);
d3.range(0, 1.0001, 0.02).forEach(t => cg.append("stop").attr("offset", t).attr("stop-color", jetT(t)));
svg.append("rect").attr("x", CB.x).attr("y", P.top).attr("width", CB.w).attr("height", P.bottom - P.top)
  .attr("fill", "url(#cbar)").attr("stroke", "#000").attr("stroke-width", 1.6);
svg.append("g").attr("transform", `translate(${CB.x + CB.w},0)`)
  .call(d3.axisRight(cy).tickValues(cbarTicks).tickSizeInner(-6).tickSizeOuter(0).tickPadding(6).tickFormat(d3.format(".2f")))
  .call(g => { styleAxis(g); g.selectAll("text").attr("font-size", 21.5); });
svg.append("text").attr("transform", "translate(1132,862) rotate(-90)").attr("text-anchor", "start").attr("font-size", 23.5)
  .text("V-band magnitude");

// legend: stars
const L1 = svg.append("g");
L1.append("rect").attr("x", 1159).attr("y", 48).attr("width", 261).attr("height", 339)
  .attr("fill", "#fff").attr("stroke", "#000").attr("stroke-width", 1.6);
L1.append("text").attr("x", 1289).attr("y", 79).attr("text-anchor", "middle").attr("font-size", 24).text("Stars");
legendLabels.forEach((lab, i) => {
  const yy = 105 + i * 32.5;
  L1.append("circle").attr("cx", 1189).attr("cy", yy).attr("r", starR(legendMags[i])).attr("fill", "#111");
  L1.append("text").attr("x", 1228).attr("y", yy).attr("dy", "0.36em").attr("font-size", 21.3).text(lab);
});

// legend: motion + field of view
const L2 = svg.append("g");
L2.append("rect").attr("x", 1160).attr("y", 403).attr("width", 321).attr("height", 146)
  .attr("fill", "#fff").attr("stroke", "#000").attr("stroke-width", 1.6);
L2.append("line").attr("x1", 1178).attr("x2", 1212).attr("y1", 453).attr("y2", 453).attr("stroke", "#2a9a2a").attr("stroke-width", 2);
["Apparent motion of", "best-fitting orbit", "in arcmin/hour"].forEach((t, i) => {
  L2.append("text").attr("x", 1238).attr("y", 425 + i * 26.5).attr("dy", "0.36em").attr("font-size", 23.2).text(t);
});
L2.append("rect").attr("x", 1172).attr("y", 516).attr("width", 48).attr("height", 15)
  .attr("fill", "none").attr("stroke", "#0000ff").attr("stroke-width", 1.6);
L2.append("text").attr("x", 1238).attr("y", 523).attr("dy", "0.36em").attr("font-size", 23.2).text("Field of View");
</script>
</body>
</html>
